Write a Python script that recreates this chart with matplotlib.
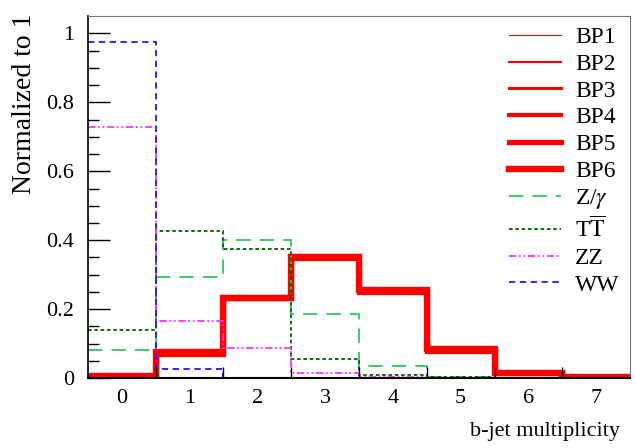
import numpy as np
import matplotlib.pyplot as plt

plt.rcParams['font.family'] = ['Liberation Serif', 'DejaVu Serif']
plt.rcParams['mathtext.fontset'] = 'stix'

# b-jet multiplicity bins 0..7
bins = np.arange(8)
edges = np.arange(9) - 0.5

# signal benchmark points (all nearly identical shapes)
bp1 = [0.004, 0.069, 0.227, 0.345, 0.249, 0.077, 0.014, 0.002]
bp2 = [0.005, 0.071, 0.230, 0.348, 0.251, 0.079, 0.015, 0.002]
bp3 = [0.005, 0.072, 0.232, 0.350, 0.252, 0.080, 0.015, 0.002]
bp4 = [0.006, 0.074, 0.235, 0.353, 0.254, 0.082, 0.016, 0.002]
bp5 = [0.005, 0.071, 0.233, 0.349, 0.250, 0.080, 0.014, 0.001]
bp6 = [0.006, 0.075, 0.231, 0.351, 0.255, 0.083, 0.016, 0.002]

# backgrounds
zgamma = [0.081, 0.293, 0.400, 0.186, 0.035, 0.003, 0.001, 0.0]
ttbar = [0.139, 0.426, 0.374, 0.055, 0.008, 0.002, 0.001, 0.0]
zz = [0.728, 0.165, 0.087, 0.014, 0.003, 0.001, 0.001, 0.0]
ww = [0.974, 0.026, 0.0, 0.0, 0.0, 0.0, 0.0, 0.0]

fig = plt.figure(figsize=(6.36, 4.48), dpi=100)
ax = fig.add_axes([0.138, 0.156, 0.853, 0.808])

# red signal curves, increasing widths
bps = [bp1, bp2, bp3, bp4, bp5, bp6]
widths = [0.8, 1.5, 2.2, 3.0, 3.8, 4.6]
for k, (vals, w) in enumerate(zip(bps, widths)):
    ax.stairs(vals, edges, color='red', lw=w, label='BP%d' % (k + 1), baseline=None)

ax.stairs(zgamma, edges, color='#33c35f', lw=1.3, linestyle=(0, (8, 5)), label=r'Z/$\gamma$', baseline=None)
ax.stairs(ttbar, edges, color='#006400', lw=1.3, linestyle=(0, (2, 1.5)), label=r'T$\overline{\rm T}$', baseline=None)
ax.stairs(zz, edges, color='#ff33ff', lw=1.3, linestyle=(0, (4, 1.5, 1, 1.5, 1, 1.5)), label='ZZ', baseline=None)
ax.stairs(ww, edges, color='#1a1aff', lw=1.3, linestyle=(0, (3.5, 2.5)), label='WW', baseline=None)

ax.set_xlim(-0.5, 7.5)
ax.set_ylim(0, 1.05)

# x: labels at bin centres, tick marks at bin edges
ax.set_xticks(bins)
ax.set_xticklabels([str(b) for b in bins])
ax.set_xticks(edges[1:-1], minor=True)
ax.tick_params(axis='x', which='major', length=0, labelsize=16, pad=8)
ax.tick_params(axis='x', which='minor', direction='in', length=8, width=1)

ax.set_yticks([0, 0.2, 0.4, 0.6, 0.8, 1.0])
ax.set_yticklabels(['0', '0.2', '0.4', '0.6', '0.8', '1'])
ax.set_yticks(np.arange(0, 1.05, 0.05), minor=True)
ax.tick_params(axis='y', which='major', direction='in', length=16, width=1, labelsize=16, pad=10)
ax.tick_params(axis='y', which='minor', direction='in', length=8, width=1)
ax.tick_params(right=False, top=False)

for s in ['top', 'right']:
    ax.spines[s].set_color('#777777')
ax.spines['left'].set_linewidth(1.2)
ax.spines['bottom'].set_linewidth(1.5)

ax.set_ylabel('Normalized to 1', fontsize=20)
ax.yaxis.set_label_coords(-0.094, 0.757)
fig.text(0.975, 0.015, 'b-jet multiplicity', ha='right', va='bottom', fontsize=16)

ax.legend(loc='upper right', frameon=False, fontsize=17, handlelength=2.2,
          labelspacing=0.22, handletextpad=0.6, borderaxespad=0.05)

plt.savefig('out.png', dpi=100)
